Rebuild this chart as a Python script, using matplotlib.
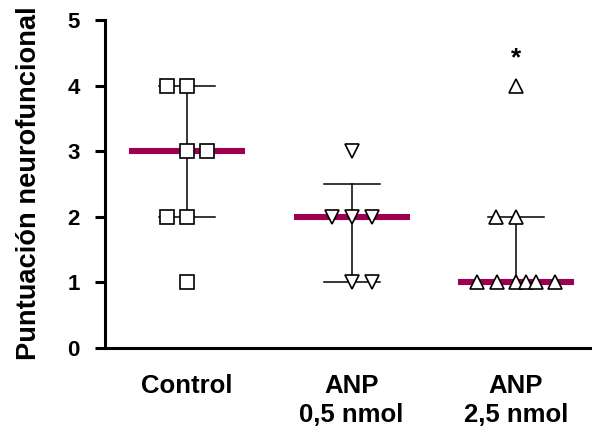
import matplotlib
matplotlib.use("Agg")
import matplotlib.pyplot as plt

# ---- data ----
groups = ["Control", "ANP\n0,5 nmol", "ANP\n2,5 nmol"]
control_vals = [4, 4, 3, 3, 2, 2, 1]
anp05_vals = [3, 2, 2, 2, 1, 1]
anp25_vals = [4, 2, 2, 1, 1, 1, 1, 1, 1]
medians = [3, 2, 1]
err_low = [2, 1, 1]
err_high = [4, 2.5, 2]
markers = ["s", "v", "^"]
yticks = [0, 1, 2, 3, 4, 5]
signif = ["", "", "*"]
signif_y = 4.42

# horizontal spread of tied points (in units of marker spacing)
control_off = [-1, 0, 0, 1, -1, 0, 0]
anp05_off = [0, -1, 0, 1, 0, 1]
anp25_off = [0, -1, 0, -1.95, -0.97, 0, 0.5, 1, 1.95]

values = [control_vals, anp05_vals, anp25_vals]
offsets = [control_off, anp05_off, anp25_off]

plt.rcParams['font.family'] = ['Liberation Sans', 'DejaVu Sans']
plt.rcParams['font.weight'] = 'bold'

fig = plt.figure(figsize=(5.94, 4.33), dpi=100)
ax = fig.add_axes([105/594, 85/433, (590-105)/594, (348-20)/433])

step = 0.1216
med_hw = 0.3526
cap_hw = 0.17
med_color = "#9C0050"

for i, (vals, offs) in enumerate(zip(values, offsets)):
    xc = i + 1
    # error bar
    ax.plot([xc, xc], [err_low[i], err_high[i]], color="black", lw=1.1, zorder=2)
    for yv in (err_low[i], err_high[i]):
        ax.plot([xc - cap_hw, xc + cap_hw], [yv, yv], color="black", lw=1.1, zorder=2)
    # median
    ax.plot([xc - med_hw, xc + med_hw], [medians[i], medians[i]], color=med_color,
            lw=4.4, solid_capstyle="butt", zorder=3)
    xs = [xc + o * step for o in offs]
    ax.plot(xs, vals, linestyle="none", marker=markers[i], markersize=9.5,
            markerfacecolor="white", markeredgecolor="black", markeredgewidth=1.2, zorder=4)
    if signif[i]:
        ax.text(xc, signif_y, signif[i], ha="center", va="center", fontsize=19,
                fontweight="bold")

ax.set_xlim(0.5, 3.45)
ax.set_ylim(0, 5)
ax.set_yticks(yticks)
ax.set_yticklabels([str(t) for t in yticks], fontsize=16, fontweight="bold")
ax.set_xticks([1, 2, 3])
ax.set_xticklabels(groups, fontsize=18.5, fontweight="bold", linespacing=1.25)
ax.tick_params(axis="x", length=0, pad=19)
ax.tick_params(axis="y", length=7.2, width=2.2, pad=11)
for s in ("top", "right"):
    ax.spines[s].set_visible(False)
for s in ("left", "bottom"):
    ax.spines[s].set_linewidth(2.2)
ax.set_ylabel("Puntuación neurofuncional", fontsize=19.6, fontweight="bold")
ax.yaxis.set_label_coords(-63/485, 0.503)

fig.savefig("out.png", dpi=100)
